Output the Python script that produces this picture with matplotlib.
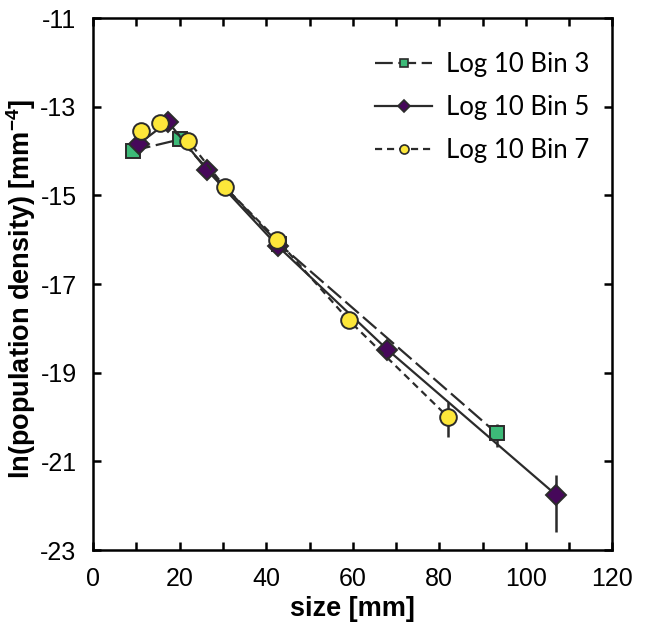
import matplotlib
matplotlib.use("Agg")
import matplotlib.pyplot as plt
from matplotlib.lines import Line2D
import numpy as np

plt.rcParams['font.family'] = ['Liberation Sans', 'DejaVu Sans']
plt.rcParams['mathtext.fontset'] = 'custom'
plt.rcParams['mathtext.rm'] = 'Liberation Sans'
plt.rcParams['mathtext.bf'] = 'Liberation Sans:bold'
plt.rcParams['axes.unicode_minus'] = False

# Data
bin3_x = [9.2, 20.0, 43.0, 93.3]
bin3_y = [-13.99, -13.74, -16.10, -20.37]
bin3_err_lo = [0.05, 0.05, 0.05, 0.30]
bin3_err_hi = [0.05, 0.05, 0.05, 0.22]

bin5_x = [10.5, 17.3, 26.2, 42.7, 68.0, 106.9]
bin5_y = [-13.84, -13.34, -14.42, -16.15, -18.48, -21.75]
bin5_err_lo = [0.05, 0.05, 0.05, 0.05, 0.08, 0.85]
bin5_err_hi = [0.05, 0.05, 0.05, 0.05, 0.08, 0.45]

bin7_x = [11.1, 15.5, 22.0, 30.4, 42.5, 59.1, 82.0]
bin7_y = [-13.54, -13.37, -13.77, -14.81, -16.00, -17.82, -20.00]
bin7_err_lo = [0.05, 0.05, 0.05, 0.05, 0.05, 0.08, 0.45]
bin7_err_hi = [0.05, 0.05, 0.05, 0.05, 0.05, 0.08, 0.35]

labels = ['Log 10 Bin 3', 'Log 10 Bin 5', 'Log 10 Bin 7']
x_ticks = [0, 20, 40, 60, 80, 100, 120]
y_ticks = [-23, -21, -19, -17, -15, -13, -11]

green = '#3dba78'
purple = '#46085a'
yellow = '#fde73a'
edge = '#2b2b2b'

fig = plt.figure(figsize=(6.45, 6.32), dpi=100)
ax = fig.add_axes([0.1445, 0.1297, 0.805, 0.8418])

lw = 1.6
dash3 = (8, 2.5)
dash7 = (3.2, 2.2)
ax.errorbar(bin3_x, bin3_y, yerr=[bin3_err_lo, bin3_err_hi], color=edge, lw=lw,
            dashes=dash3, marker='s', ms=10, mfc=green, mec=edge, mew=1.4,
            ecolor=edge, elinewidth=1.8, capsize=0, zorder=2)
ax.errorbar(bin5_x, bin5_y, yerr=[bin5_err_lo, bin5_err_hi], color=edge, lw=lw,
            ls='-', marker='D', ms=10, mfc=purple, mec=edge, mew=1.4,
            ecolor=edge, elinewidth=1.8, capsize=0, zorder=3)
ax.errorbar(bin7_x, bin7_y, yerr=[bin7_err_lo, bin7_err_hi], color=edge, lw=lw,
            dashes=dash7, marker='o', ms=12, mfc=yellow, mec=edge, mew=1.4,
            ecolor=edge, elinewidth=1.8, capsize=0, zorder=4)

ax.set_xlim(0, 120)
ax.set_ylim(-23, -11)
ax.set_xticks(x_ticks)
ax.set_xticks(np.arange(10, 120, 20), minor=True)
ax.set_yticks(y_ticks)
ax.tick_params(which='both', direction='in', top=True, right=True, length=6, width=1.8,
               labelsize=18, color='black')
ax.tick_params(axis='x', pad=12)
ax.tick_params(axis='y', pad=12)
for s in ax.spines.values():
    s.set_linewidth(1.8)

ax.set_xlabel('size [mm]', fontsize=19.5, fontweight='bold')
ax.set_ylabel(r'ln(population density) [mm$^{\mathbf{-4}}$]', fontsize=19.5,
              fontweight='bold')
ax.xaxis.set_label_coords(0.5, -0.087)
ax.yaxis.set_label_coords(-0.107, 0.49)

handles = [
    Line2D([], [], color=edge, lw=lw, dashes=dash3, marker='s', ms=6, mfc=green, mec=edge, mew=1.2),
    Line2D([], [], color=edge, lw=lw, ls='-', marker='D', ms=6, mfc=purple, mec=edge, mew=1.2),
    Line2D([], [], color=edge, lw=lw, dashes=dash7, marker='o', ms=6.5, mfc=yellow, mec=edge, mew=1.2),
]
ax.legend(handles, labels, loc='upper right', frameon=False,
          prop={'family': 'Lato', 'size': 18.5},
          handlelength=2.2, labelspacing=0.7, bbox_to_anchor=(1.0, 0.98),
          handletextpad=0.55)

fig.savefig('out.png', dpi=100)
